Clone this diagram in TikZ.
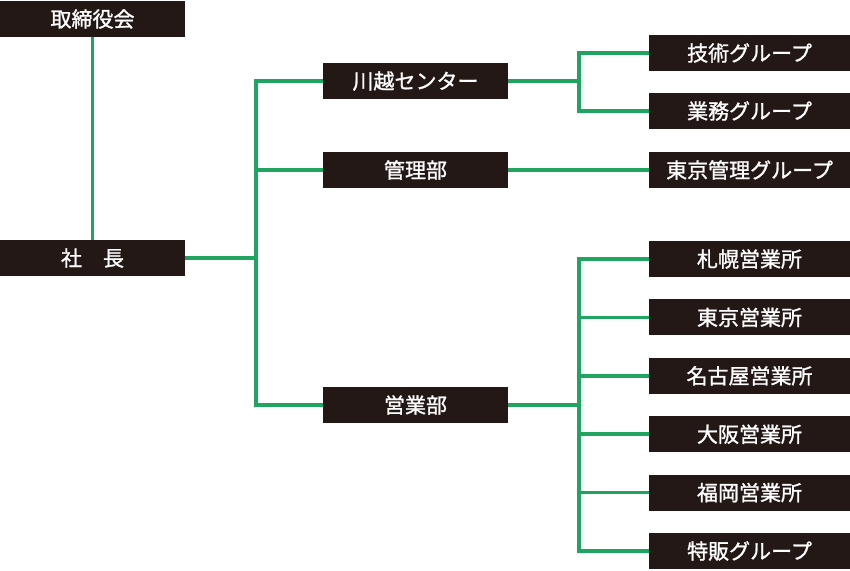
\documentclass[tikz,border=0pt]{standalone}
\usepackage{fontspec}
\setmainfont{Noto Sans CJK JP}[BoldFont = Noto Sans CJK JP, BoldFeatures = {FakeBold = 1.2}]
\usepackage{tikz}
\definecolor{boxblack}{HTML}{231815}
\definecolor{linegreen}{HTML}{1FA55F}

\begin{document}
\begin{tikzpicture}[x = 1pt, y = -1pt,
        block/.style = {minimum width = #1, minimum height = 36pt, fill = boxblack, text = white, inner sep = 0pt, font = \fontsize{21}{21}\selectfont\bfseries},
        block/.default = 185pt,
        link/.style = {draw = linegreen, line width = 3.6pt}]
    \useasboundingbox (0, 0) rectangle (850, 570);
    \node[block] (board)    at (92.5, 19)  {取締役会};
    \node[block] (pres)     at (92.5, 258) {社　長};
    \node[block] (kawagoe)  at (415.5, 81)  {川越センター};
    \node[block] (kanri)    at (415.5, 170) {管理部};
    \node[block] (eigyo)    at (415.5, 405) {営業部};
    \node[block = 201pt] (gijutsu) at (749.5, 53)  {技術グループ};
    \node[block = 201pt] (gyomu)   at (749.5, 111) {業務グループ};
    \node[block = 201pt] (tkanri)  at (749.5, 170) {東京管理グループ};
    \foreach \name/\txt [count = \i from 0] in {sapporo/札幌営業所, tokyo/東京営業所, nagoya/名古屋営業所, osaka/大阪営業所, fukuoka/福岡営業所, tokuhan/特販グループ}
        \node[block = 201pt] (\name) at (749.5, 259 + 58.4*\i) {\txt};
    \coordinate (busA) at (256, 0);
    \coordinate (busB) at (579, 0);
    \draw[link] (board) -- (pres);
    \draw[link] (pres.east) -- (pres.east -| busA) |- (kawagoe.west);
    \draw[link] (pres.east -| busA) |- (kanri.west);
    \draw[link] (pres.east -| busA) |- (eigyo.west);
    \draw[link] (kawagoe.east) -- (kawagoe.east -| busB) |- (gijutsu.west);
    \draw[link] (kawagoe.east -| busB) |- (gyomu.west);
    \draw[link] (kanri) -- (tkanri);
    \draw[link] (eigyo.east) -- (eigyo.east -| busB);
    \foreach \name in {sapporo, tokyo, nagoya, osaka, fukuoka, tokuhan}
        \draw[link] (eigyo.east -| busB) |- (\name.west);
\end{tikzpicture}
\end{document}
